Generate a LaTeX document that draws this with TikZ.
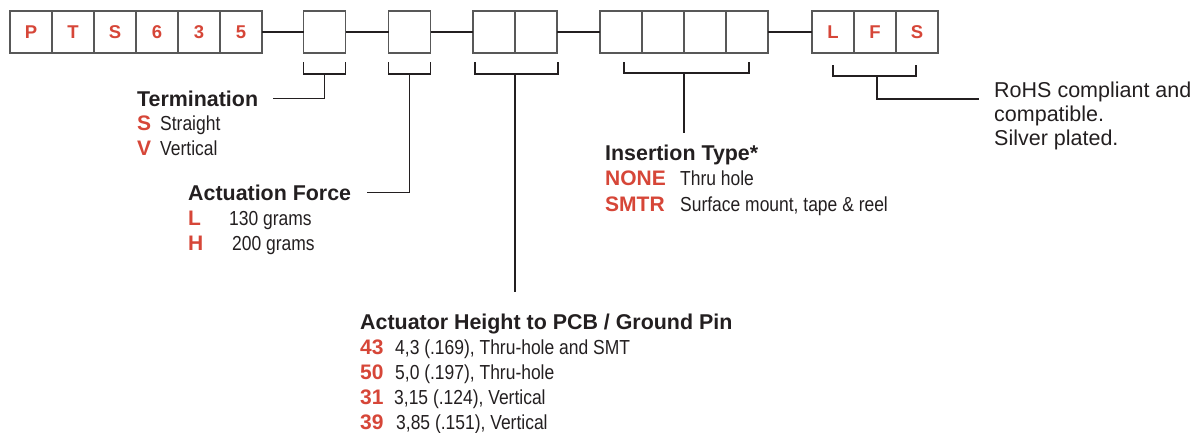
\documentclass[tikz,border=0pt]{standalone}
\usepackage{fontspec}
\setmainfont{Liberation Sans}
\newfontfamily\condfont[FakeStretch=0.86]{Liberation Sans}
\usepackage{tikz}
\usetikzlibrary{positioning}
\definecolor{codered}{RGB}{214,70,56}
\definecolor{inkgray}{RGB}{35,31,32}
\definecolor{boxgray}{RGB}{88,88,88}

\tikzset{
  cell/.style = {draw = boxgray, line width = 1.3pt, minimum width = 42pt, minimum height = 42pt, inner sep = 0, outer sep = 0, font = \fontsize{18.5}{18.5}\selectfont\bfseries, text = codered},
  link/.style = {draw = inkgray, line width = 1.1pt},
  head/.style = {anchor = base west, inner sep = 0, font = \fontsize{21.4}{21.4}\selectfont\bfseries, text = inkgray},
  code/.style = {anchor = base west, inner sep = 0, font = \fontsize{21}{21}\selectfont\bfseries, text = codered},
  desc/.style = {anchor = base west, inner sep = 0, font = \fontsize{20.3}{20.3}\selectfont\condfont, text = inkgray},
  note/.style = {anchor = base west, inner sep = 0, font = \fontsize{21.5}{21.5}\selectfont, text = inkgray}
}

\begin{document}
\begin{tikzpicture}[x = 1pt, y = 1pt]
 \useasboundingbox (0, 0) rectangle (1201, -432);
 % part number boxes
 \node[cell] (p1) at (31, -32) {P};
 \node[cell, right = 0pt of p1] (p2) {T};
 \node[cell, right = 0pt of p2] (p3) {S};
 \node[cell, right = 0pt of p3] (p4) {6};
 \node[cell, right = 0pt of p4] (p5) {3};
 \node[cell, right = 0pt of p5] (p6) {5};
 \node[cell] (tm) at (324.5, -32) {};
 \node[cell] (fc) at (409.5, -32) {};
 \node[cell] (h1) at (494, -32) {};
 \node[cell, right = 0pt of h1] (h2) {};
 \node[cell] (in1) at (621, -32) {};
 \node[cell, right = 0pt of in1] (in2) {};
 \node[cell, right = 0pt of in2] (in3) {};
 \node[cell, right = 0pt of in3] (in4) {};
 \node[cell] (lf1) at (833, -32) {L};
 \node[cell, right = 0pt of lf1] (lf2) {F};
 \node[cell, right = 0pt of lf2] (lf3) {S};
 \draw[link] (p6.east) -- (tm.west);
 \draw[link] (tm.east) -- (fc.west);
 \draw[link] (fc.east) -- (h1.west);
 \draw[link] (h2.east) -- (in1.west);
 \draw[link] (in4.east) -- (lf1.west);

 % termination
 \node[head] (term) at (137, -106) {Termination};
 \node[code] (termS) at (137, -130) {S};
 \node[desc] (termSd) at (160, -130) {Straight};
 \node[code] (termV) at (137, -155) {V};
 \node[desc] (termVd) at (160, -155) {Vertical};
 \draw[link] ([yshift = -9pt]tm.south west) |- ([yshift = -21pt]tm.south) coordinate (tmk) -| ([yshift = -9pt]tm.south east);
 \draw[link] (tmk) |- ([xshift = 15pt]term.east);

 % actuation force
 \node[head] (force) at (188, -200.5) {Actuation Force};
 \node[code] (forceL) at (188, -225.5) {L};
 \node[desc] (forceLd) at (229, -225.5) {130 grams};
 \node[code] (forceH) at (188, -250.5) {H};
 \node[desc] (forceHd) at (232, -250.5) {200 grams};
 \draw[link] ([yshift = -9pt]fc.south west) |- ([yshift = -21pt]fc.south) coordinate (fck) -| ([yshift = -9pt]fc.south east);
 \draw[link] (fck) |- ([xshift = 16pt]force.east);

 % actuator height
 \node[head] (hgt) at (360, -329) {Actuator Height to PCB / Ground Pin};
 \node[code] (hgt43) at (360, -354) {43};
 \node[desc] (hgt43d) at (395, -354) {4,3 (.169), Thru-hole and SMT};
 \node[code] (hgt50) at (360, -379.3) {50};
 \node[desc] (hgt50d) at (395, -379.3) {5,0 (.197), Thru-hole};
 \node[code] (hgt31) at (360, -404.3) {31};
 \node[desc] (hgt31d) at (394, -404.3) {3,15 (.124), Vertical};
 \node[code] (hgt39) at (360, -429.3) {39};
 \node[desc] (hgt39d) at (396, -429.3) {3,85 (.151), Vertical};
 \coordinate (hgtTop) at (515, -292);
 \draw[link] ([xshift = 2pt, yshift = -9pt]h1.south west) |- ([yshift = -21pt]h1.south east) coordinate (hk) -| ([xshift = 1pt, yshift = -9pt]h2.south east);
 \draw[link] (hk) -- (hgtTop);

 % insertion type
 \node[head] (ins) at (605, -160) {Insertion Type*};
 \node[code] (insN) at (605, -185.5) {NONE};
 \node[desc] (insNd) at (680, -185.5) {Thru hole};
 \node[code] (insS) at (605, -211) {SMTR};
 \node[desc] (insSd) at (680, -211) {Surface mount, tape \& reel};
 \coordinate (insTop) at (684, -133);
 \draw[link] ([xshift = 24pt, yshift = -9pt]in1.south west) |- ([yshift = -20pt]in2.south east) coordinate (ik) -| ([xshift = -19pt, yshift = -9pt]in4.south east);
 \draw[link] (ik) -- (insTop);

 % rohs
 \node[note] (rohs1) at (994, -97) {RoHS compliant and};
 \node[note] (rohs2) at (994, -121) {compatible.};
 \node[note] (rohs3) at (994, -145) {Silver plated.};
 \draw[link] ([xshift = 21pt, yshift = -12pt]lf1.south west) |- ([xshift = 2pt, yshift = -23pt]lf2.south) coordinate (lk) -| ([xshift = -22pt, yshift = -12pt]lf3.south east);
 \draw[link] (lk) |- ([xshift = -15pt, yshift = -2pt]rohs1.base west);
\end{tikzpicture}
\end{document}
